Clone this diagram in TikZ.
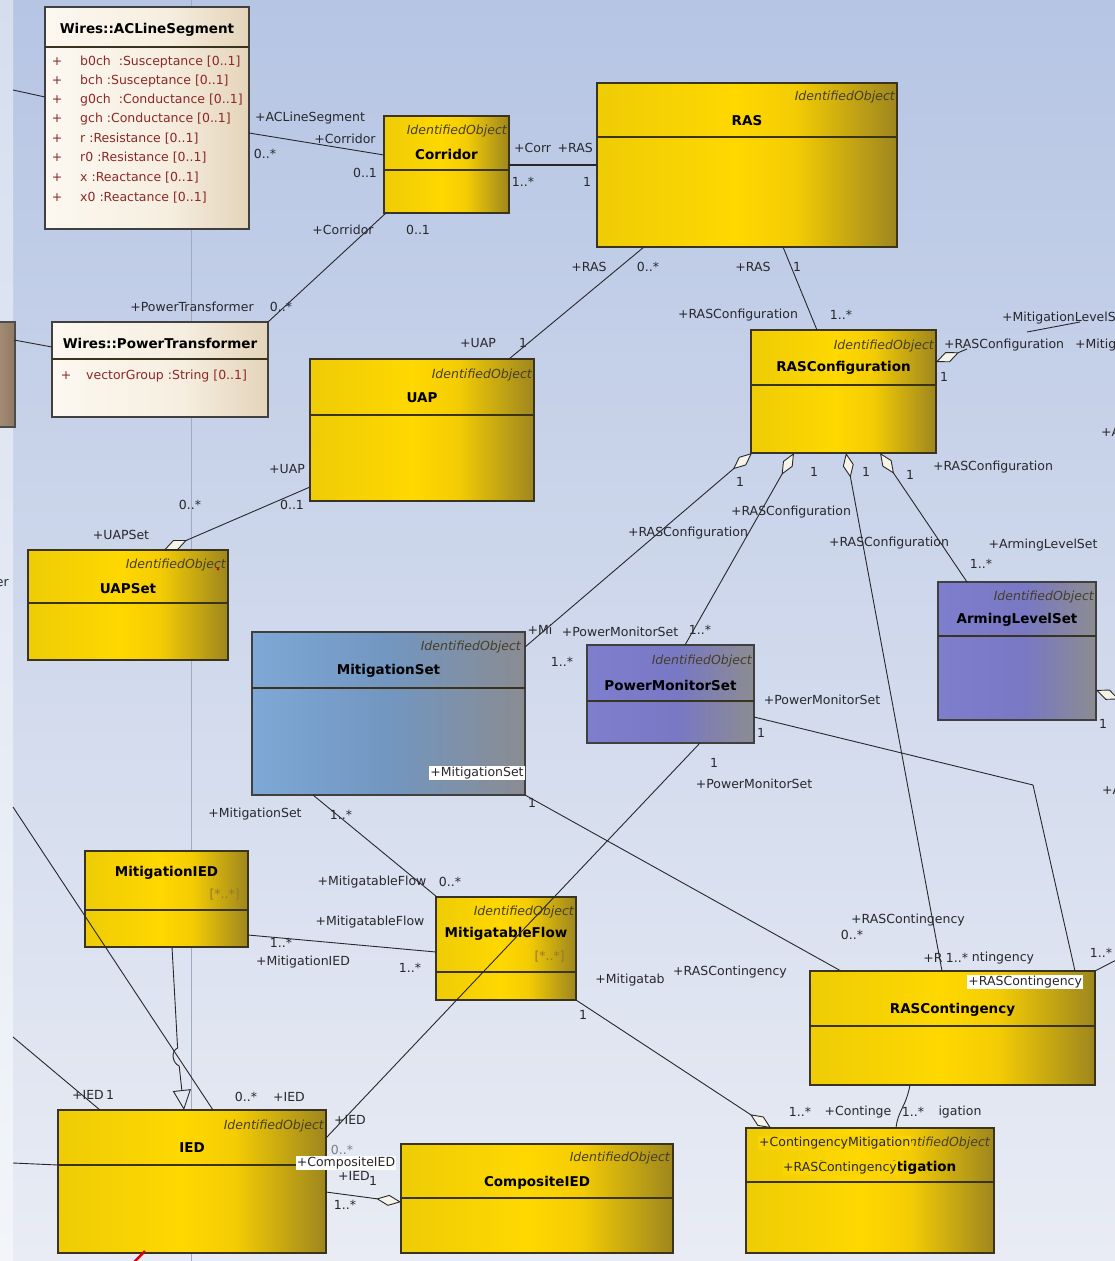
\documentclass[tikz,border=0pt]{standalone}
\usepackage{fontspec}
\setmainfont{DejaVu Sans}
\usetikzlibrary{arrows.meta,calc}

\definecolor{bgtop}{RGB}{182,197,228}
\definecolor{bgbot}{RGB}{233,236,244}
\definecolor{striptop}{RGB}{214,222,238}
\definecolor{stripbot}{RGB}{243,245,249}
\definecolor{guideclr}{RGB}{160,170,192}
\definecolor{boxedge}{RGB}{58,52,30}
\definecolor{lineclr}{RGB}{40,40,44}
\definecolor{ylA}{RGB}{238,204,6}
\definecolor{ylB}{RGB}{255,216,0}
\definecolor{ylC}{RGB}{244,204,4}
\definecolor{ylD}{RGB}{158,134,30}
\definecolor{blA}{RGB}{126,126,206}
\definecolor{blB}{RGB}{120,120,196}
\definecolor{blD}{RGB}{140,140,146}
\definecolor{stA}{RGB}{126,168,214}
\definecolor{stB}{RGB}{114,150,192}
\definecolor{stD}{RGB}{138,140,146}
\definecolor{crA}{RGB}{252,248,240}
\definecolor{crB}{RGB}{246,238,224}
\definecolor{crD}{RGB}{228,212,186}
\definecolor{attrclr}{RGB}{140,40,40}
\definecolor{lblclr}{RGB}{40,40,44}
\definecolor{stclr}{RGB}{70,62,40}
\definecolor{diafill}{RGB}{246,244,232}
\definecolor{mulclr}{RGB}{150,120,50}
\definecolor{tagyl}{RGB}{250,212,2}

% box fills: bright on the left, darkening towards the right edge
\pgfdeclarehorizontalshading{ylshade}{100bp}{color(0bp)=(ylA); color(25bp)=(ylA); color(48bp)=(ylB); color(58bp)=(ylC); color(75bp)=(ylD); color(100bp)=(ylD)}
\pgfdeclarehorizontalshading{blshade}{100bp}{color(0bp)=(blA); color(25bp)=(blA); color(52bp)=(blB); color(75bp)=(blD); color(100bp)=(blD)}
\pgfdeclarehorizontalshading{stshade}{100bp}{color(0bp)=(stA); color(25bp)=(stA); color(50bp)=(stB); color(75bp)=(stD); color(100bp)=(stD)}
\pgfdeclarehorizontalshading{crshade}{100bp}{color(0bp)=(crA); color(25bp)=(crA); color(55bp)=(crB); color(75bp)=(crD); color(100bp)=(crD)}

\tikzset{
  boxbase/.style={draw=boxedge, line width=1.1pt, outer sep=0pt, inner sep=0pt},
  yellowbox/.style={boxbase, shade, shading=ylshade},
  bluebox/.style={boxbase, draw=black!75, shade, shading=blshade},
  steelbox/.style={boxbase, draw=black!75, shade, shading=stshade},
  creambox/.style={boxbase, draw=black!75, shade, shading=crshade},
  divline/.style={draw=boxedge, line width=1.1pt},
  guide/.style={draw=guideclr, line width=0.6pt},
  conn/.style={draw=lineclr, line width=0.9pt},
  agg/.style={conn, -{Diamond[length=25pt,width=11pt,fill=diafill,line width=0.9pt]}},
  gen/.style={conn, -{Triangle[open,length=20pt,width=18pt,line width=0.9pt]}},
  lbl/.style={font=\fontsize{12.5}{14}\selectfont, text=lblclr, inner sep=0pt},
  ttl/.style={font=\bfseries\fontsize{13.5}{15}\selectfont, text=black, inner sep=0pt},
  stereo/.style={font=\itshape\fontsize{12.5}{14}\selectfont, text=stclr, inner sep=0pt, anchor=east},
  attr/.style={font=\fontsize{12.5}{14}\selectfont, text=attrclr, inner sep=0pt, anchor=west},
  attrplus/.style={font=\fontsize{12.5}{14}\selectfont, text=attrclr, inner sep=0pt},
  mult/.style={font=\fontsize{12.5}{14}\selectfont, text=mulclr, inner sep=0pt, anchor=east},
  tag/.style={lbl, fill=white, inner sep=1.2pt},
  ytag/.style={lbl, fill=tagyl, inner sep=1pt},
}

% class box: name, style, x, y, width, height, header height
\newcommand\umlbox[7]{%
  \node[#2, minimum width=#5pt, minimum height=#6pt, anchor=north west] (#1) at (#3,#4) {};
  \draw[divline] ([yshift=-#7pt]#1.north west) -- ([yshift=-#7pt]#1.north east);
}

\begin{document}
\begin{tikzpicture}[x=1pt,y=-1pt]
\useasboundingbox (0,0) rectangle (1115,1261);

% canvas
\shade[top color=bgtop, bottom color=bgbot] (0,0) rectangle (1115,1261);
\shade[top color=striptop, bottom color=stripbot] (0,0) rectangle (13,1261);
\draw[guide] (191,0) -- (191,1261);

% classes
\umlbox{acl}{creambox}{45}{7}{204}{222}{40}
\umlbox{ptf}{creambox}{52}{322}{216}{95}{37}
\node[boxbase, draw=black!70, left color=black!35!brown!60, right color=black!50!brown!70, minimum width=26pt, minimum height=105pt, anchor=north west] (edgebox) at (-11,322) {};
\umlbox{corr}{yellowbox}{384}{116}{125}{97}{54}
\umlbox{ras}{yellowbox}{597}{83}{300}{164}{54}
\umlbox{uap}{yellowbox}{310}{359}{224}{142}{56}
\umlbox{rcfg}{yellowbox}{751}{330}{185}{123}{55}
\umlbox{uapset}{yellowbox}{28}{550}{200}{110}{53}
\umlbox{mset}{steelbox}{252}{632}{273}{163}{56}
\umlbox{pms}{bluebox}{587}{645}{167}{98}{56}
\umlbox{als}{bluebox}{938}{582}{158}{138}{54}
\umlbox{mied}{yellowbox}{85}{851}{163}{96}{59}
\umlbox{mflow}{yellowbox}{436}{897}{140}{103}{75}
\umlbox{rcont}{yellowbox}{810}{971}{285}{114}{55}
\umlbox{ied}{yellowbox}{58}{1110}{268}{143}{55}
\umlbox{cied}{yellowbox}{401}{1144}{272}{109}{54}
\umlbox{cmit}{yellowbox}{746}{1128}{248}{125}{54}

% class headers
\node[ttl] (acl-t) at ([yshift=-23pt]acl.north) {Wires::ACLineSegment};
\foreach \i/\dy/\txt in {1/55/{b0ch\ \ :Susceptance [0..1]},2/74/{bch :Susceptance [0..1]},3/93/{g0ch\ \ :Conductance [0..1]},4/112/{gch :Conductance [0..1]},5/132/{r :Resistance [0..1]},6/151/{r0 :Resistance [0..1]},7/171/{x :Reactance [0..1]},8/191/{x0 :Reactance [0..1]}}{
  \node[attrplus] (acl-p\i) at ([xshift=12pt,yshift=-\dy pt]acl.north west) {+};
  \node[attr] (acl-a\i) at ([xshift=35pt,yshift=-\dy pt]acl.north west) {\txt};
}
\node[ttl] (ptf-t) at ([yshift=-21pt]ptf.north) {Wires::PowerTransformer};
\node[attrplus] (ptf-p1) at ([xshift=14pt,yshift=-54pt]ptf.north west) {+};
\node[attr] (ptf-a1) at ([xshift=34pt,yshift=-54pt]ptf.north west) {vectorGroup :String [0..1]};

\node[stereo] (corr-s) at ([xshift=-2pt,yshift=-15pt]corr.north east) {IdentifiedObject};
\node[ttl] (corr-t) at ([yshift=-38pt]corr.north) {Corridor};
\node[stereo] (ras-s) at ([xshift=-2pt,yshift=-14pt]ras.north east) {IdentifiedObject};
\node[ttl] (ras-t) at ([yshift=-38pt]ras.north) {RAS};
\node[stereo] (uap-s) at ([xshift=-2pt,yshift=-16pt]uap.north east) {IdentifiedObject};
\node[ttl] (uap-t) at ([yshift=-39pt]uap.north) {UAP};
\node[stereo] (rcfg-s) at ([xshift=-2pt,yshift=-16pt]rcfg.north east) {IdentifiedObject};
\node[ttl] (rcfg-t) at ([yshift=-38pt]rcfg.north) {RASConfiguration};
\node[stereo] (uapset-s) at ([xshift=-2pt,yshift=-15pt]uapset.north east) {IdentifiedObject};
\node[ttl] (uapset-t) at ([yshift=-39pt]uapset.north) {UAPSet};
\node[stereo] (mset-s) at ([xshift=-4pt,yshift=-15pt]mset.north east) {IdentifiedObject};
\node[ttl] (mset-t) at ([yshift=-39pt]mset.north) {MitigationSet};
\node[stereo] (pms-s) at ([xshift=-2pt,yshift=-16pt]pms.north east) {IdentifiedObject};
\node[ttl] (pms-t) at ([yshift=-40pt]pms.north) {PowerMonitorSet};
\node[stereo] (als-s) at ([xshift=-2pt,yshift=-15pt]als.north east) {IdentifiedObject};
\node[ttl] (als-t) at ([yshift=-38pt]als.north) {ArmingLevelSet};
\node[ttl] (mied-t) at ([yshift=-22pt]mied.north) {MitigationIED};
\node[mult] (mied-m) at ([xshift=-8pt,yshift=-44pt]mied.north east) {[*..*]};
\node[stereo] (mflow-s) at ([xshift=-2pt,yshift=-15pt]mflow.north east) {IdentifiedObject};
\node[ttl] (mflow-t) at ([yshift=-37pt]mflow.north) {MitigatableFlow};
\node[mult] (mflow-m) at ([xshift=-11pt,yshift=-60pt]mflow.north east) {[*..*]};
\node[ttl] (rcont-t) at ([yshift=-39pt]rcont.north) {RASContingency};
\node[stereo] (ied-s) at ([xshift=-2pt,yshift=-16pt]ied.north east) {IdentifiedObject};
\node[ttl] (ied-t) at ([yshift=-38pt]ied.north) {IED};
\node[stereo] (cied-s) at ([xshift=-3pt,yshift=-14pt]cied.north east) {IdentifiedObject};
\node[ttl] (cied-t) at ([yshift=-39pt]cied.north) {CompositeIED};
\node[stereo] (cmit-s) at ([xshift=-4pt,yshift=-15pt]cmit.north east) {IdentifiedObject};
\node[ttl] (cmit-t) at ([yshift=-40pt]cmit.north) {ContingencyMitigation};

% free ends and bends
\coordinate (e1) at (13,90);
\coordinate (e2) at (14,340);
\coordinate (e3) at (13,807);
\coordinate (e4) at (13,1037);
\coordinate (e5) at (13,1163);
\coordinate (e6) at (1122,957);
\coordinate (e7) at (1138,707);
\coordinate (k1) at (1033,785);
\coordinate (r1) at (967,349);
\coordinate (r2) at (1027,332);
\coordinate (r3) at (1080,322);
\coordinate (j1) at (177.6,1048);
\coordinate (j2) at (179.2,1066);

% associations
\draw[conn] (e1) -- ([yshift=-90pt]acl.north west);
\draw[conn] (e2) -- ([yshift=-25pt]ptf.north west);
\draw[conn] ([yshift=-126pt]acl.north east) -- ([yshift=-39pt]corr.north west);
\draw[conn] ([xshift=2pt]corr.south west) -- (ptf.north east);
\draw[conn, line width=1.4pt] ([yshift=-49pt]corr.north east) -- ([yshift=-82pt]ras.north west);
\draw[conn] ([xshift=47pt]ras.south west) -- ([xshift=199pt]uap.north west);
\draw[conn] ([xshift=186pt]ras.south west) -- ([xshift=66pt]rcfg.north west);
\draw[agg] ([yshift=-128pt]uap.north west) -- ([xshift=136pt]uapset.north west);
\draw[agg] ([yshift=-15pt]mset.north east) -- ([xshift=1pt]rcfg.south west);
\draw[agg] ([xshift=98pt]pms.north west) -- ([xshift=43pt]rcfg.south west);
\draw[agg] ([xshift=132pt]rcont.north west) -- ([xshift=95pt]rcfg.south west);
\draw[agg] ([xshift=29pt]als.north west) -- ([xshift=129pt]rcfg.south west);
\draw[agg] (r1) -- ([yshift=-32pt]rcfg.north east);
\draw[conn] (r2) -- (r3);
\draw[agg] (e7) -- ([yshift=-108pt]als.north east);
\draw[conn] ([xshift=61pt]mset.south west) -- ([xshift=1pt]mflow.north west);
\draw[conn] ([yshift=-84pt]mied.north east) -- ([yshift=-55pt]mflow.north west);
\draw[conn] (mset.south east) -- ([xshift=31pt]rcont.north west);
\draw[conn] ([yshift=-72pt]pms.north east) -- (k1) -- ([xshift=265pt]rcont.north west);
\draw[conn] (rcont.north east) -- (e6);
\draw[conn] ([xshift=113pt]pms.south west) -- ([yshift=-28pt]ied.north east);
\draw[agg] (mflow.south east) -- ([xshift=25pt]cmit.north west);
\draw[conn] ([xshift=100pt]rcont.south west) .. controls +(-4,22) and +(2,-18) .. ([xshift=150pt]cmit.north west);
\draw[agg] ([yshift=-82pt]ied.north east) -- ([yshift=-58pt]cied.north west);
\draw[conn] (e3) -- ([xshift=155pt]ied.north west);
\draw[conn] (e4) -- ([xshift=42pt]ied.north west);
\draw[conn] (e5) -- ([yshift=-55pt]ied.north west);
\draw[gen] ([xshift=87pt]mied.south west) -- (j1) .. controls +(-7,3) and +(-7,-3) .. (j2) -- ([xshift=126pt]ied.north west);

% role names and multiplicities
\node[lbl] (l1) at (310,118) {+ACLineSegment};
\node[lbl] (l2) at (345,139) {+Corridor};
\node[lbl] (l3) at (265,154) {0..*};
\node[lbl] (l4) at (365,173) {0..1};
\node[lbl] (l5) at (343,230) {+Corridor};
\node[lbl] (l6) at (418,230) {0..1};
\node[lbl] (l7) at (192,307) {+PowerTransformer};
\node[lbl] (l8) at (281,307) {0..*};
\node[lbl, anchor=west] (l9) at (514,148) {+Corr};
\node[lbl, anchor=east] (l10) at (593,148) {+RAS};
\node[lbl] (l11) at (523,182) {1..*};
\node[lbl] (l12) at (587,182) {1};
\node[lbl] (l13) at (589,267) {+RAS};
\node[lbl] (l14) at (648,267) {0..*};
\node[lbl] (l15) at (753,267) {+RAS};
\node[lbl] (l16) at (797,267) {1};
\node[lbl] (l17) at (478,343) {+UAP};
\node[lbl] (l18) at (523,343) {1};
\node[lbl] (l19) at (738,315) {+RASConfiguration};
\node[lbl] (l20) at (841,315) {1..*};
\node[lbl, anchor=west] (l21) at (1002,318) {+MitigationLevelSet};
\node[lbl, anchor=west] (l22) at (944,345) {+RASConfiguration};
\node[lbl, anchor=west] (l23) at (1075,345) {+MitigationLevelSet};
\node[lbl] (l24) at (944,377) {1};
\node[lbl, anchor=west] (l25) at (1101,432) {+A};
\node[lbl] (l26) at (993,467) {+RASConfiguration};
\node[lbl] (l27) at (740,482) {1};
\node[lbl] (l28) at (814,472) {1};
\node[lbl] (l29) at (866,472) {1};
\node[lbl] (l30) at (910,475) {1};
\node[lbl] (l31) at (688,533) {+RASConfiguration};
\node[lbl] (l32) at (791,512) {+RASConfiguration};
\node[lbl] (l33) at (889,543) {+RASConfiguration};
\node[lbl] (l34) at (1043,545) {+ArmingLevelSet};
\node[lbl] (l35) at (981,564) {1..*};
\node[lbl] (l36) at (190,505) {0..*};
\node[lbl] (l37) at (287,469) {+UAP};
\node[lbl] (l38) at (292,505) {0..1};
\node[lbl] (l39) at (121,535) {+UAPSet};
\node[lbl, anchor=east] (l40) at (9,582) {Power};
\node[lbl] (l41) at (540,630) {+Mi};
\node[lbl] (l42) at (620,632) {+PowerMonitorSet};
\node[lbl] (l43) at (700,630) {1..*};
\node[lbl] (l44) at (562,662) {1..*};
\node[lbl] (l45) at (822,700) {+PowerMonitorSet};
\node[lbl] (l46) at (761,733) {1};
\node[lbl] (l47) at (714,763) {1};
\node[lbl] (l48) at (754,784) {+PowerMonitorSet};
\node[lbl] (l49) at (1103,724) {1};
\node[lbl, anchor=west] (l50) at (1102,790) {+A};
\node[tag, anchor=east] (l51) at (525,773) {+MitigationSet};
\node[lbl] (l52) at (532,803) {1};
\node[lbl] (l53) at (255,814) {+MitigationSet};
\node[lbl] (l54) at (341,815) {1..*};
\node[lbl] (l55) at (372,882) {+MitigatableFlow};
\node[lbl] (l56) at (450,882) {0..*};
\node[lbl] (l57) at (370,922) {+MitigatableFlow};
\node[lbl] (l58) at (281,943) {1..*};
\node[lbl] (l59) at (303,962) {+MitigationIED};
\node[lbl] (l60) at (410,968) {1..*};
\node[lbl] (l61) at (908,920) {+RASContingency};
\node[lbl] (l62) at (852,935) {0..*};
\node[lbl] (l63) at (933,958) {+R};
\node[lbl] (l64) at (957,958) {1..*};
\node[lbl] (l65) at (1003,958) {ntingency};
\node[lbl] (l66) at (1101,953) {1..*};
\node[tag, anchor=west] (l67) at (967,982) {+RASContingency};
\node[lbl] (l68) at (630,980) {+Mitigatab};
\node[lbl] (l69) at (730,972) {+RASContingency};
\node[lbl] (l70) at (583,1015) {1};
\node[lbl] (l71) at (800,1112) {1..*};
\node[lbl] (l72) at (858,1112) {+Continge};
\node[lbl] (l73) at (913,1112) {1..*};
\node[lbl] (l74) at (960,1112) {igation};
\node[ytag, anchor=west] (l75) at (758,1143) {+ContingencyMitigation};
\node[ytag, anchor=west] (l76) at (782,1168) {+RASContingency};
\node[lbl] (l77) at (88,1095) {+IED};
\node[lbl] (l78) at (110,1095) {1};
\node[lbl] (l79) at (246,1097) {0..*};
\node[lbl] (l80) at (289,1097) {+IED};
\node[lbl] (l81) at (350,1120) {+IED};
\node[lbl, text=lblclr!60] (l82) at (342,1150) {0..*};
\node[lbl] (l83) at (354,1176) {+IED};
\node[tag] (l84) at (346,1163) {+CompositeIED};
\node[lbl] (l85) at (373,1181) {1};
\node[lbl] (l86) at (345,1205) {1..*};

% stray marks
\fill[red!80!black] ([xshift=-10pt,yshift=-19pt]uapset.north east) circle (1.5pt);
\draw[red!85!black, line width=2.5pt] (133,1263) -- (145,1251);
\end{tikzpicture}
\end{document}
